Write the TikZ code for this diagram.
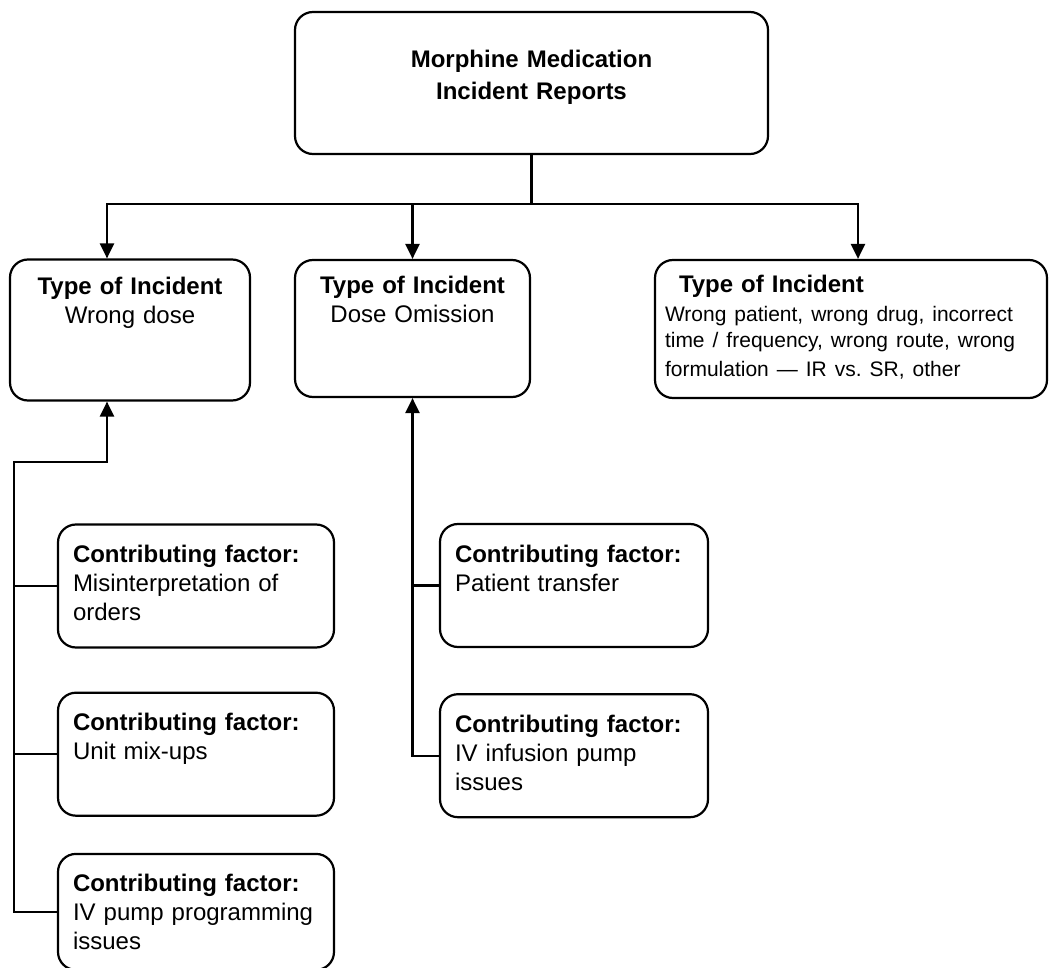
\documentclass[tikz,border=0pt]{standalone}
\usepackage{fontspec}
\setmainfont{Liberation Sans}
\usetikzlibrary{positioning,arrows.meta}
\tikzset{
  line/.style={-{Triangle[width=14pt,length=15pt]}, line width=2.3pt},
  link/.style={line width=2.3pt},
  box/.style={draw, line width=2.2pt, rounded corners=18pt, inner xsep=15pt, inner ysep=0pt, font=\fontsize{24}{29}\selectfont},
  headbox/.style={box, align=center, text width=443pt, text height=56pt, text depth=86pt, font=\fontsize{24}{32}\selectfont\bfseries},
  typebox/.style={box, align=center, text height=35pt, text depth=106pt},
  factorbox/.style={box, align=left, text height=38pt, text depth=85pt}
}
\begin{document}
\begin{tikzpicture}[x=1pt, y=-1pt]
  \useasboundingbox (0,0) rectangle (1050,968);
  \node[headbox] (top) at (531.5,83) {Morphine Medication\\Incident Reports};
  % incident types
  \node[typebox, text width=210pt] (inc1) at (130,330) {\textbf{Type of Incident}\\Wrong dose};
  \node[typebox, text width=205pt, text height=34pt, text depth=103pt] (inc2) at (412.5,328.5) {\textbf{Type of Incident}\\Dose Omission};
  \node[box, align=left, inner xsep=10pt, text width=372pt, text height=33pt, text depth=105pt] (inc3) at (851,329)
    {\hspace*{14pt}\textbf{Type of Incident}\\[3pt]\fontsize{21}{26}\selectfont Wrong patient, wrong drug, incorrect\\time / frequency, wrong route, wrong\\formulation — IR vs.\ SR, other};
  % contributing factors
  \node[factorbox, text width=246pt] (fa) at (196,586) {\textbf{Contributing factor:}\\Misinterpretation of\\orders};
  \node[factorbox, text width=246pt, below=43pt of fa] (fb) {\textbf{Contributing factor:}\\Unit mix-ups};
  \node[factorbox, text width=246pt, text depth=78pt, below=36pt of fb] (fc) {\textbf{Contributing factor:}\\IV pump programming\\issues};
  \node[factorbox, text width=238pt] (fd) at (574,585.5) {\textbf{Contributing factor:}\\Patient transfer};
  \node[factorbox, text width=238pt, below=45pt of fd] (fe) {\textbf{Contributing factor:}\\IV infusion pump\\issues};
  \coordinate (bus) at (531.5,204);
  \coordinate (spine) at (14,462);
  \draw[link] (top.south) -- (bus);
  \draw[line] (bus) -| ([xshift=-23pt]inc1.north);
  \draw[line] (bus) -| (inc2.north);
  \draw[line] (bus) -| ([xshift=7pt]inc3.north);
  \draw[line] (fc.west) -| (spine) -| ([xshift=-23pt]inc1.south);
  \draw[link] (fa.west) -- (fa.west -| spine);
  \draw[link] (fb.west) -- (fb.west -| spine);
  \draw[line] (fe.west) -| (inc2.south);
  \draw[link] (fd.west) -- (fd.west -| inc2.south);
\end{tikzpicture}
\end{document}
